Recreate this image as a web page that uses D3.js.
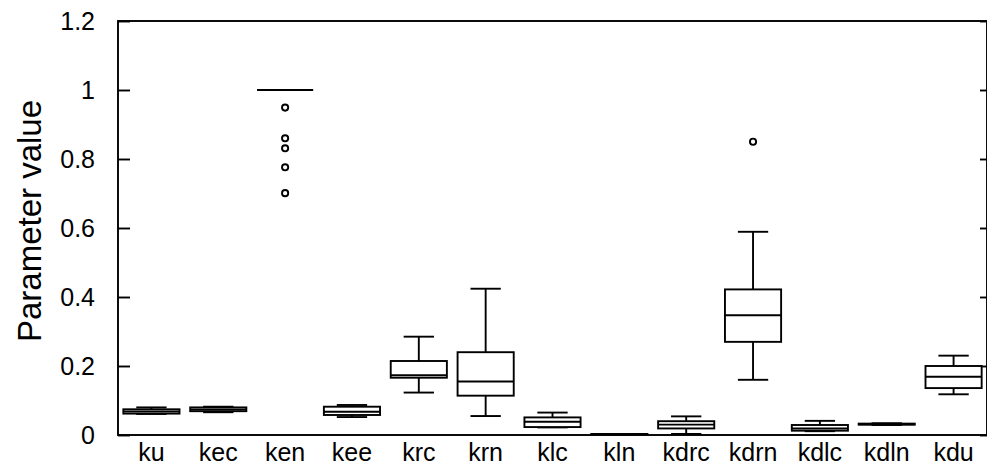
<!DOCTYPE html>
<html>
<head>
<meta charset="utf-8">
<script src="https://cdn.jsdelivr.net/npm/d3@7"></script>
<style>
  html, body { margin: 0; padding: 0; background: #fff; }
  svg { display: block; }
  text { font-family: "Liberation Sans", Arial, sans-serif; fill: #000; }
</style>
</head>
<body>
<svg id="chart" width="987" height="466"></svg>
<script>
// Parameter distributions: five-number summaries plus outliers
const categories = ["ku", "kec", "ken", "kee", "krc", "krn", "klc", "kln", "kdrc", "kdrn", "kdlc", "kdln", "kdu"];
const whiskerLow = [0.061, 0.066, 1.0, 0.052, 0.123, 0.055, 0.022, 0.002, 0.003, 0.160, 0.011, 0.029, 0.118];
const q1         = [0.062, 0.069, 1.0, 0.058, 0.166, 0.114, 0.023, 0.002, 0.019, 0.270, 0.0125, 0.030, 0.136];
const median     = [0.068, 0.074, 1.0, 0.0676, 0.173, 0.155, 0.0386, 0.002, 0.030, 0.347, 0.019, 0.031, 0.169];
const q3         = [0.0745, 0.080, 1.0, 0.082, 0.2145, 0.240, 0.051, 0.003, 0.040, 0.422, 0.029, 0.033, 0.200];
const whiskerHigh= [0.080, 0.082, 1.0, 0.087, 0.285, 0.424, 0.065, 0.003, 0.054, 0.589, 0.041, 0.034, 0.230];
const outliers   = [[], [], [0.949, 0.860, 0.831, 0.776, 0.701], [], [], [], [], [], [], [0.850], [], [], []];
const yTicks = [0, 0.2, 0.4, 0.6, 0.8, 1, 1.2];

const svg = d3.select("#chart");
const margin = { left: 118, right: 0, top: 21, bottom: 31 };
const W = 987, H = 466;
const x0 = margin.left, x1 = W - margin.right;
const y0 = H - margin.bottom, y1 = margin.top;

const x = d3.scaleBand().domain(categories).range([x0, x1]).paddingInner(0).paddingOuter(0);
const y = d3.scaleLinear().domain([0, 1.2]).range([y0, y1]);

const boxW = x.bandwidth() * 0.84;
const capW = boxW * 0.54;
const lw = 1.9;

const data = categories.map((c, i) => ({
  name: c, lo: whiskerLow[i], q1: q1[i], med: median[i], q3: q3[i], hi: whiskerHigh[i], out: outliers[i]
}));

// Frame: bottom, top, left and right borders
const frame = svg.append("g").attr("stroke", "#000").attr("stroke-width", lw).attr("fill", "none");
frame.append("rect").attr("x", x0).attr("y", y1).attr("width", x1 - x0).attr("height", y0 - y1);

// Left axis with inward ticks
const yAxisL = svg.append("g").attr("transform", `translate(${x0},0)`)
  .call(d3.axisLeft(y).tickValues(yTicks).tickSize(-12).tickPadding(23).tickFormat(d3.format("~g")));
yAxisL.select(".domain").remove();
yAxisL.selectAll(".tick line").attr("stroke", "#000").attr("stroke-width", lw);
yAxisL.selectAll(".tick text").style("font-size", "25px").attr("dy", "0.35em");

// Right axis, short inward ticks
const yAxisR = svg.append("g").attr("transform", `translate(${x1},0)`)
  .call(d3.axisRight(y).tickValues(yTicks).tickSize(-7).tickFormat(""));
yAxisR.select(".domain").remove();
yAxisR.selectAll(".tick line").attr("stroke", "#000").attr("stroke-width", lw);

// Category labels
const xAxis = svg.append("g").attr("transform", `translate(0,${y0})`)
  .call(d3.axisBottom(x).tickSize(0).tickPadding(8));
xAxis.select(".domain").remove();
xAxis.selectAll(".tick text").style("font-size", "25px").attr("dy", "0.71em");

// Boxes
const g = svg.append("g").selectAll("g.box").data(data).join("g").attr("class", "box")
  .attr("transform", d => `translate(${x(d.name) + x.bandwidth() / 2},0)`)
  .attr("stroke", "#000").attr("stroke-width", lw).attr("fill", "none");

g.append("line").attr("x1", 0).attr("x2", 0).attr("y1", d => y(d.q3)).attr("y2", d => y(d.hi));
g.append("line").attr("x1", 0).attr("x2", 0).attr("y1", d => y(d.q1)).attr("y2", d => y(d.lo));
g.append("line").attr("x1", -capW / 2).attr("x2", capW / 2).attr("y1", d => y(d.hi)).attr("y2", d => y(d.hi));
g.append("line").attr("x1", -capW / 2).attr("x2", capW / 2).attr("y1", d => y(d.lo)).attr("y2", d => y(d.lo));
g.append("rect").attr("x", -boxW / 2).attr("width", boxW)
  .attr("y", d => y(d.q3)).attr("height", d => Math.max(0, y(d.q1) - y(d.q3)))
  .attr("fill", "#fff");
g.append("line").attr("x1", -boxW / 2).attr("x2", boxW / 2).attr("y1", d => y(d.med)).attr("y2", d => y(d.med));

// Outliers
g.selectAll("circle").data(d => d.out).join("circle")
  .attr("cx", 0).attr("cy", v => y(v)).attr("r", 3.1).attr("fill", "#fff");

// Y axis title
svg.append("text")
  .attr("transform", `translate(41,${(y0 + y1) / 2 - 7}) rotate(-90)`)
  .attr("text-anchor", "middle")
  .style("font-size", "33px")
  .text("Parameter value");
</script>
</body>
</html>
